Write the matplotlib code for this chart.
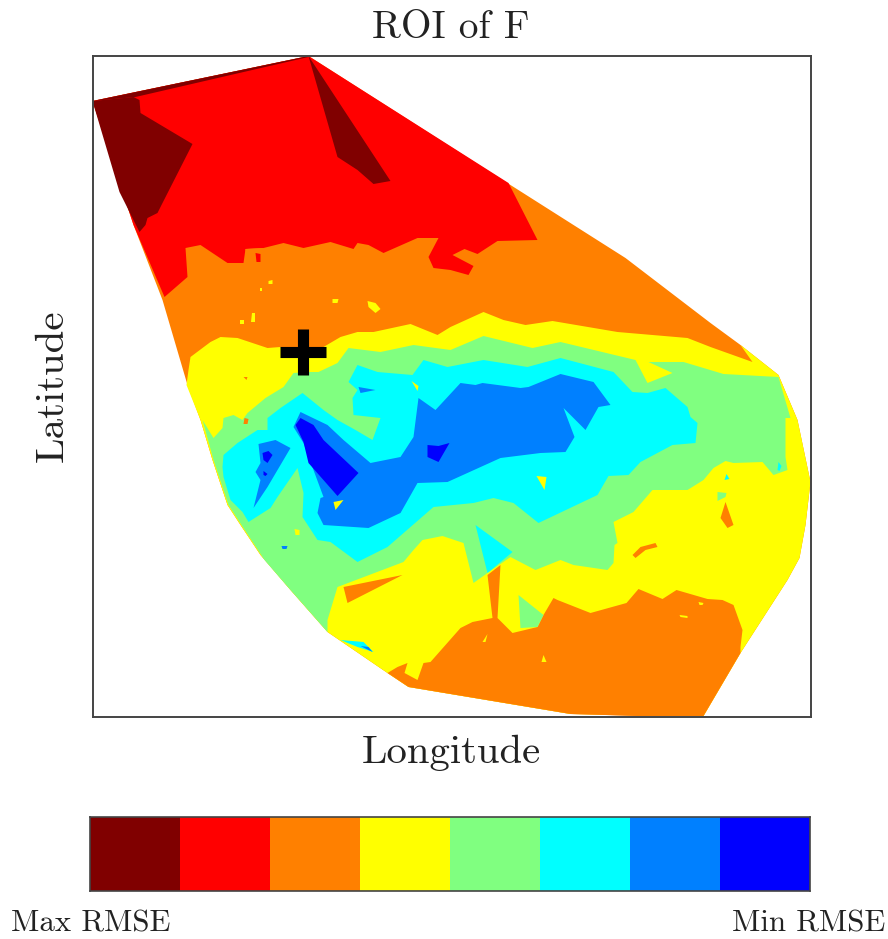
import matplotlib
matplotlib.use("Agg")
import matplotlib.pyplot as plt
from matplotlib.colors import ListedColormap
import numpy as np

# level colours, from maximum to minimum RMSE
level_colors = ["#800000", "#ff0000", "#ff8000", "#ffff00", "#80ff80", "#00ffff", "#0080ff", "#0000ff"]
level_rank = [0, 1, 2, 3, 4, 5, 6, 7]
DR, R, O, Y, G, C, B, DB = level_rank

# contour outlines (longitude-like x, latitude-like y)
hull = [(92,101),(308,56),(510,185),(625,258),(710,323),(740,345),(778,375),(797,420),(810,482),(805,525),(799,558),(787,580),(740,653),(703,716),(640,716),(570,714),(408,687),(387,673),(327,632),(290,590),(260,555),(240,525),(227,505),(212,460),(200,420),(187,385),(162,300),(133,225)]
red_main = [(92,101),(308,56),(508,183),(537,240),(497,241),(477,254),(464,249),(452,255),(473,266),(468,275),(450,270),(433,268),(428,257),(438,238),(417,238),(383,253),(368,245),(357,243),(353,249),(330,242),(303,248),(283,243),(263,248),(245,249),(243,263),(227,263),(200,245),(185,248),(187,277),(164,297),(133,225)]
orange_in_red = [(245,249),(263,248),(262,256),(246,262)]
red_spot = [(255,253),(260,254),(260,262),(256,262)]
dark_left = [(92,101),(133,97),(139,100),(140,113),(192,144),(161,205),(157,213),(147,218),(145,225),(139,232),(119,192)]
dark_mid = [(308,56),(390,181),(373,184),(357,170),(337,157)]
dark_top = [(92,101),(308,56),(308,57),(135,97)]
yellow_main = [(186,385),(188,370),(190,357),(210,342),(220,337),(237,338),(267,348),(280,347),(323,347),(340,337),(357,332),(373,332),(410,324),(437,335),(450,327),(483,312),(503,320),(525,325),(552,321),(617,332),(687,338),(710,347),(752,362),(740,345),(778,375),(797,420),(810,482),(805,525),(799,558),(787,580),(740,653),(703,716),(570,714),(408,687),(387,673),(327,632),(290,590),(260,555),(240,525),(227,505),(212,460),(200,420)]
green_main = [(202,420),(213,438),(222,428),(223,418),(233,415),(242,420),(247,413),(265,398),(283,387),(293,373),(308,372),(318,372),(337,363),(348,348),(380,352),(413,345),(450,350),(483,336),(532,348),(560,342),(635,360),(647,383),(672,373),(648,362),(683,362),(723,374),(778,377),(790,418),(785,418),(785,457),(787,470),(773,475),(762,462),(733,463),(725,461),(713,468),(703,480),(687,490),(652,490),(633,512),(613,522),(617,543),(614,545),(613,563),(607,570),(573,565),(560,560),(535,570),(510,557),(487,573),(473,583),(463,543),(442,536),(422,540),(413,550),(403,562),(337,587),(327,620),(327,632),(290,590),(264,560),(241,525),(228,505),(213,460)]
cyan_main = [(223,455),(237,443),(257,430),(267,430),(267,418),(280,408),(302,393),(323,410),(337,420),(355,430),(372,440),(380,418),(353,415),(352,398),(357,390),(348,382),(357,365),(377,372),(412,375),(423,360),(447,367),(483,360),(527,367),(560,358),(613,372),(632,392),(647,393),(665,388),(687,407),(690,417),(697,423),(695,443),(672,445),(640,462),(628,475),(608,476),(597,495),(538,523),(513,503),(493,498),(473,503),(433,507),(410,527),(387,547),(357,562),(330,542),(317,540),(302,517),(303,493),(297,468),(277,497),(270,508),(248,522),(242,512),(230,500),(223,477),(222,467)]
blue_main = [(293,427),(300,412),(327,425),(343,440),(370,463),(400,457),(413,437),(418,398),(435,410),(460,383),(475,385),(482,383),(520,388),(528,387),(560,374),(593,382),(610,405),(598,407),(585,430),(563,408),(574,437),(565,452),(540,453),(500,458),(447,482),(417,483),(400,513),(368,528),(323,525),(317,513),(320,498),(323,497),(303,443)]
blue_left = [(258,444),(275,440),(290,448),(267,487),(253,508),(260,480),(255,472),(260,463)]
blue_notch = [(358,387),(375,390),(360,393)]
dblue_main = [(295,425),(300,418),(313,425),(323,440),(358,473),(337,496),(308,463),(303,442)]
dblue_mid = [(427,445),(438,446),(449,443),(438,462),(427,457)]
dblue_left = [(262,453),(268,451),(272,455),(267,463),(263,460)]
dblue_dot = [(263,471),(267,474),(265,476),(263,475)]
orange_bottom = [(387,673),(397,667),(407,663),(404,673),(417,680),(423,663),(430,662),(460,628),(472,622),(492,618),(487,575),(500,565),(497,618),(512,633),(537,627),(543,615),(553,598),(557,600),(590,613),(626,603),(638,589),(662,599),(676,590),(707,599),(722,600),(733,605),(742,630),(740,647),(740,653),(703,716),(640,716),(570,714),(408,687)]
green_drop = [(518,595),(543,615),(537,627),(520,628)]
cyan_wedge = [(475,525),(512,552),(487,573)]
orange_wedge = [(343,587),(402,575),(347,603)]
cyan_sliver = [(340,640),(363,642),(373,652),(357,647)]
blue_sliver = [(360,646),(368,647),(372,652)]
orange_worm = [(632,555),(640,547),(655,543),(657,547),(645,550),(635,558)]
orange_spike = [(725,502),(733,525),(727,528),(720,518)]
green_chip = [(717,492),(726,493),(725,497),(717,501)]
cyan_chip = [(726,474),(729,479),(724,480)]
cyan_corner = [(778,462),(781,466),(779,471),(777,470)]
yellow_slit = [(487,634),(485,642),(482,642)]
yellow_dot_b = [(543,655),(546,662),(541,662)]
yellow_dash_a = [(698,602),(703,603),(702,605),(699,605)]
yellow_dash_b = [(679,615),(687,616),(687,618),(680,617)]
yellow_islands = [
    [(268,281),(272,280),(272,284),(268,284)],
    [(259,288),(261,288),(261,291),(259,291)],
    [(332,299),(338,299),(337,303),(332,303)],
    [(367,301),(375,303),(380,309),(375,313),(368,307)],
    [(251,313),(254,313),(254,322),(250,322)],
    [(239,320),(243,320),(243,324),(239,324)],
    [(294,529),(299,530),(299,535),(295,535)],
]
yellow_in_cyan_a = [(411,381),(418,386),(417,391)]
yellow_in_cyan_b = [(536,476),(546,477),(544,490)]
yellow_in_blue = [(333,502),(343,500),(335,510)]
blue_dot = [(281,546),(287,546),(286,549),(282,549)]
orange_dot = [(244,418),(248,419),(247,424),(243,424)]
orange_speck = [(243,377),(247,377),(246,380)]

layers = [
    (O, hull), (R, red_main), (O, orange_in_red), (R, red_spot),
    (DR, dark_left), (DR, dark_mid), (DR, dark_top),
    (Y, yellow_main), (G, green_main), (C, cyan_main), (B, blue_main), (B, blue_left),
    (B, blue_notch), (DB, dblue_main), (DB, dblue_mid), (DB, dblue_left), (DB, dblue_dot),
    (O, orange_bottom), (G, green_drop), (C, cyan_wedge), (O, orange_wedge),
    (C, cyan_sliver), (B, blue_sliver), (O, orange_worm), (O, orange_spike),
    (G, green_chip), (C, cyan_chip), (C, cyan_corner), (Y, yellow_slit), (Y, yellow_dot_b),
    (Y, yellow_dash_a), (Y, yellow_dash_b), (Y, yellow_in_cyan_a), (Y, yellow_in_cyan_b),
    (Y, yellow_in_blue), (B, blue_dot), (O, orange_dot), (O, orange_speck),
]
layers += [(Y, p) for p in yellow_islands]

station_lon = [302.5]
station_lat = [352]
x_range = (92, 810)
y_range = (717, 56)
colorbar_order = [level_rank]

title_text = "ROI of F"
x_label = "Longitude"
y_label = "Latitude"
left_label = "Max RMSE"
right_label = "Min RMSE"

W, H = 888, 939
plt.rcParams["font.family"] = ["cmr10", "DejaVu Serif"]
plt.rcParams["axes.formatter.use_mathtext"] = True
fig = plt.figure(figsize=(W / 100, H / 100), dpi=100)

def box(l, t, r, b):
    return [l / W, 1 - b / H, (r - l) / W, (b - t) / H]

tc = "#222222"
ax = fig.add_axes(box(92.5, 56, 810.5, 717))
for lev, poly in layers:
    xs, ys = zip(*poly)
    ax.fill(xs, ys, color=level_colors[lev], lw=0)
ax.plot(station_lon, station_lat, marker="+", ms=32.5, mew=8, color="black", ls="none")
ax.set_xlim(*x_range)
ax.set_ylim(*y_range)
ax.set_xticks([])
ax.set_yticks([])
for s in ax.spines.values():
    s.set_linewidth(1.4)
    s.set_color("#444444")

fig.text(450.5 / W, 1 - 28 / H, title_text, ha="center", va="center", fontsize=28.3, color=tc)
fig.text(451 / W, 1 - 753 / H, x_label, ha="center", va="center", fontsize=29.3, color=tc)
fig.text(52.5 / W, 1 - 386 / H, y_label, ha="center", va="center", rotation=90, fontsize=29.5, color=tc)

cax = fig.add_axes(box(90.4, 817, 809.8, 891))
cax.imshow(colorbar_order, cmap=ListedColormap(level_colors), vmin=-0.5, vmax=7.5, aspect="auto", interpolation="nearest")
cax.set_xticks([])
cax.set_yticks([])
for s in cax.spines.values():
    s.set_linewidth(1.2)
    s.set_color("#444444")

fig.text(91 / W, 1 - 924 / H, left_label, ha="center", va="center", fontsize=22.2, color=tc)
fig.text(809 / W, 1 - 924 / H, right_label, ha="center", va="center", fontsize=22.2, color=tc)

fig.savefig("out.png", dpi=100)
